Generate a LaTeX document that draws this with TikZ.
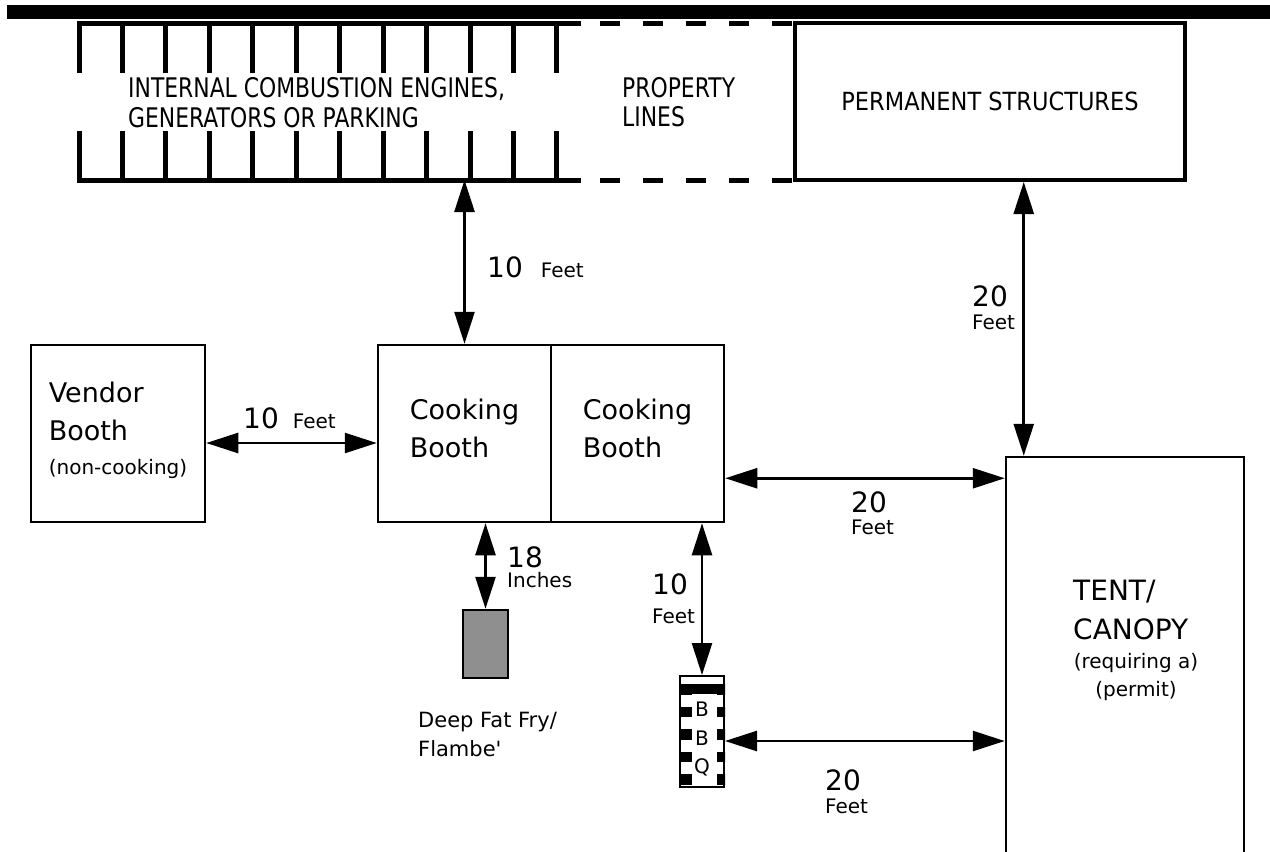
\documentclass[tikz,border=0pt]{standalone}
\usepackage{fontspec}
\setmainfont{DejaVu Sans}
\newfontfamily\capsfont[FakeStretch=0.81]{DejaVu Sans}
\newfontfamily\permfont[FakeStretch=0.9]{DejaVu Sans}
\usetikzlibrary{arrows.meta,positioning,calc}
\definecolor{fryergrey}{HTML}{8F8F8F}
\newcommand\bigtxt{\fontsize{27}{38}\selectfont}
\newcommand\smalltxt{\fontsize{20}{28}\selectfont}
\tikzset{
  booth/.style    = {draw, line width=2.5pt, minimum width=173pt, minimum height=177pt,
                     inner sep=0pt, text depth=10pt, align=left, font=\bigtxt},
  dimarrow/.style = {<->, >={Triangle[length=32pt,width=20pt]}, line width=2.6pt},
  dimlbl/.style   = {align=left, inner sep=0pt, anchor=north west, font=\fontsize{28}{#1}\selectfont},
  fence/.style    = {line width=5pt, line cap=rect},
  propline/.style = {line width=5pt, dash pattern=on 20pt off 23pt},
  grill/.style    = {line width=13pt, dash pattern=on 10.5pt off 12pt},
  txt/.style      = {inner sep=0pt, align=left},
}

\begin{document}
\begin{tikzpicture}[x=1pt, y=-1pt]
  \useasboundingbox (0,0) rectangle (1270,852);
  \clip (0,0) rectangle (1270,852);
  % strip along the top edge
  \fill (7,5) rectangle (1270,19);

  % engines / generators / parking
  \node[minimum width=499pt, minimum height=157pt, inner sep=0pt, outer sep=0pt] (ice) at (328.5,101.5) {};
  \draw[fence] (ice.north west) -- (ice.north east);
  \draw[fence] (ice.south west) -- (ice.south east);
  \foreach \x in {0,...,11}
    \draw[fence] ($(ice.north west)+(43.45*\x,0)$) -- ++(0,47)
                 ($(ice.south west)+(43.45*\x,0)$) -- ++(0,-47);
  \node[txt, anchor=north west, font=\capsfont\fontsize{27}{30}\selectfont] (icetxt) at (128,77)
    {INTERNAL COMBUSTION ENGINES,\\GENERATORS OR PARKING};

  % permanent structures
  \node[draw, line width=4pt, minimum width=390pt, minimum height=157pt,
        font=\permfont\fontsize{25}{30}\selectfont] (perm) at (990,101.5) {PERMANENT STRUCTURES};

  % property lines
  \draw[propline] ($(ice.north east)+(22,0)$) -- (ice.north -| perm.west);
  \draw[propline] ($(ice.south east)+(22,0)$) -- (ice.south -| perm.west);
  \node[txt, anchor=north west, font=\capsfont\fontsize{27}{29.5}\selectfont] (proptxt) at (622,77) {PROPERTY\\LINES};

  % booths
  \node[booth] (cook1) at (464.5,433.5) {Cooking\\Booth};
  \node[booth, right=-2.5pt of cook1] (cook2) {Cooking\\Booth};
  \node[booth, minimum width=174pt, left=170.5pt of cook1] (vendor) {Vendor\\Booth\\[-4pt]{\smalltxt (non-cooking)}};

  % tent
  \node[draw, line width=2.5pt, minimum width=238pt, minimum height=420pt, anchor=north west] (tent) at (1004.75,455.75) {};
  \node[txt, anchor=north west, font=\fontsize{28}{39}\selectfont] (tenttxt) at (1073,580) {TENT/\\CANOPY};
  \node[inner sep=0pt, anchor=north, align=center, font=\smalltxt] (tentnote) at (1136,653) {(requiring a)\\(permit)};

  % deep fryer
  \node[draw, line width=2.5pt, fill=fryergrey, minimum width=45pt, minimum height=68pt,
        below=85.5pt of cook1, xshift=21pt] (fryer) {};
  \node[txt, anchor=north west, font=\fontsize{21}{29}\selectfont] (fryertxt) at (418,712)
    {Deep Fat Fry/\\Flambe\textquotesingle};

  % barbecue
  \node[draw, line width=2pt, minimum width=44pt, minimum height=111pt,
        below=151.75pt of cook2, xshift=64.5pt] (bbq) {};
  \begin{scope}
    \clip (bbq.north west) rectangle (bbq.south east);
    \draw[line width=10pt] ($(bbq.north west)+(0,14)$) -- ($(bbq.north east)+(0,14)$);
    \draw[grill] ($(bbq.north west)+(6.5,9)$) -- ($(bbq.south west)+(6.5,0)$);
    \draw[grill, line width=9pt] ($(bbq.north east)+(-3.5,9)$) -- ($(bbq.south east)+(-3.5,0)$);
  \end{scope}
  \node[inner sep=0pt, align=center, font=\fontsize{20}{28.5}\selectfont] (bbqtxt) at (702,739) {B\\B\\Q};

  % clearances
  \draw[dimarrow] (cook1.north |- ice.south) -- (cook1.north);
  \node[anchor=base west, inner sep=0pt, font=\fontsize{28}{38}\selectfont] (d1) at (487,277) {10\hspace{18pt}{\smalltxt Feet}};

  \coordinate (v1) at ($(vendor.east)+(0,9.5)$);
  \draw[dimarrow] (v1) -- (v1 -| cook1.west);
  \node[anchor=base west, inner sep=0pt, font=\fontsize{28}{38}\selectfont] (d2) at (243,428) {10\hspace{14pt}{\smalltxt Feet}};

  \coordinate (c2) at ($(cook2.south east)+(0,-45)$);
  \draw[dimarrow] (c2) -- (c2 -| tent.west);
  \node[dimlbl=22] (d3) at (851,492) {20\\{\smalltxt Feet}};

  \coordinate (tin) at ($(tent.north west)+(19,0)$);
  \draw[dimarrow] (tin |- perm.south) -- (tin);
  \node[dimlbl=23] (d4) at (972,286) {20\\{\smalltxt Feet}};

  \draw[dimarrow] (fryer.north |- cook1.south) -- (fryer.north);
  \node[dimlbl=20] (d5) at (507,547) {18\\{\smalltxt Inches}};

  \draw[dimarrow] (bbq.north |- cook2.south) -- (bbq.north);
  \node[dimlbl=29] (d6) at (652,574) {10\\{\smalltxt Feet}};

  \coordinate (b1) at ($(bbq.east)+(0,9.5)$);
  \draw[dimarrow] (b1) -- (b1 -| tent.west);
  \node[dimlbl=23] (d7) at (825,770) {20\\{\smalltxt Feet}};
\end{tikzpicture}
\end{document}
